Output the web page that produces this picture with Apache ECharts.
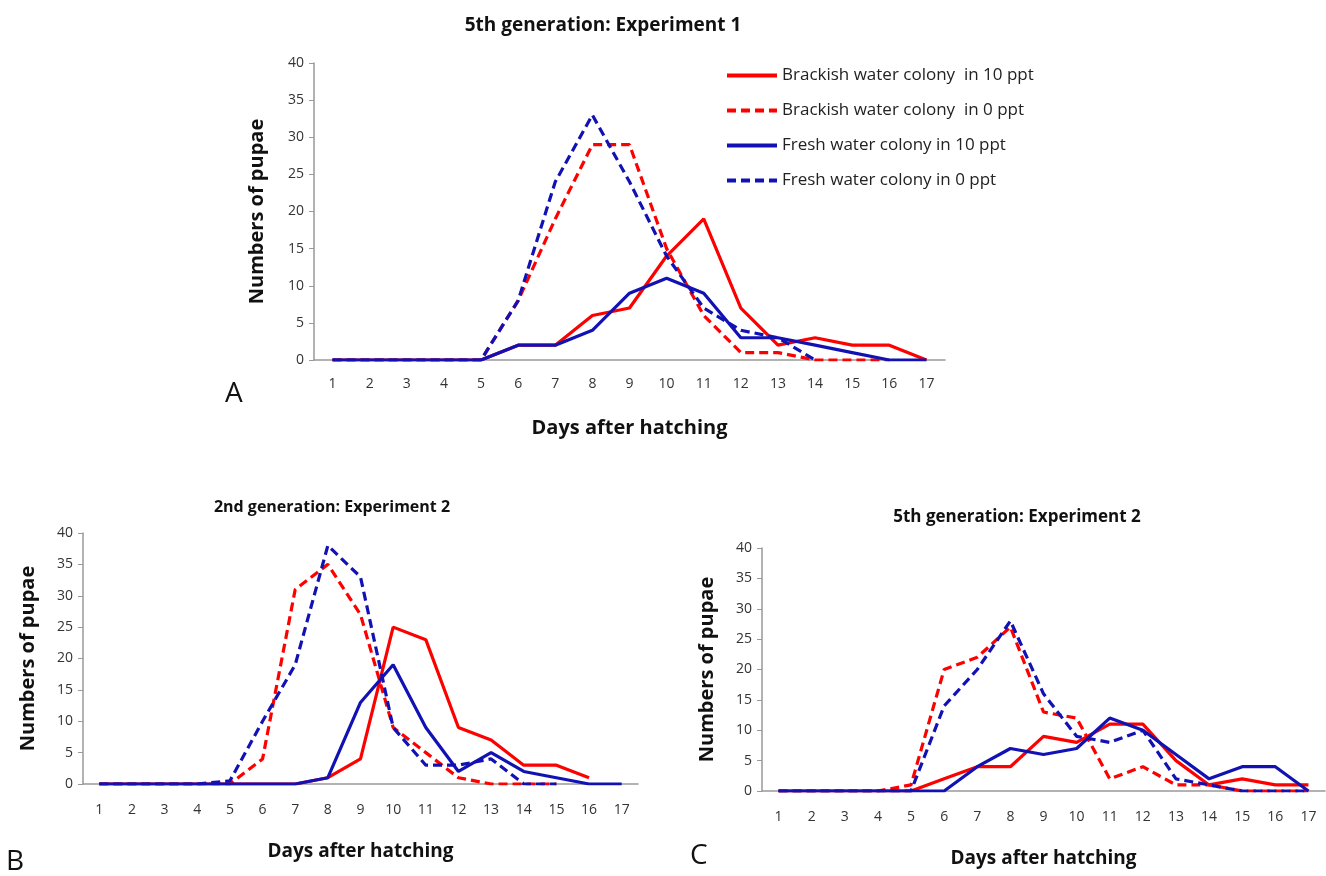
<!DOCTYPE html>
<html>
<head>
<meta charset="utf-8">
<script src="https://cdn.jsdelivr.net/npm/echarts@6/dist/echarts.min.js"></script>
<style>
  html, body { margin: 0; padding: 0; background: #fff; }
  #chart { width: 1326px; height: 876px; }
</style>
</head>
<body>
<div id="chart"></div>
<script>
// days after hatching
const days = ['1', '2', '3', '4', '5', '6', '7', '8', '9', '10', '11', '12', '13', '14', '15', '16', '17'];
const yTicks = [0, 5, 10, 15, 20, 25, 30, 35, 40];

const seriesNames = [
  'Brackish water colony  in 10 ppt',
  'Brackish water colony  in 0 ppt',
  'Fresh water colony in 10 ppt',
  'Fresh water colony in 0 ppt'
];

// A: 5th generation, experiment 1
const aBrackish10 = [0, 0, 0, 0, 0, 2, 2, 6, 7, 14, 19, 7, 2, 3, 2, 2, 0];
const aBrackish0 = [0, 0, 0, 0, 0, 8, 19, 29, 29, 15, 6, 1, 1, 0, 0, 0, '-'];
const aFresh10 = [0, 0, 0, 0, 0, 2, 2, 4, 9, 11, 9, 3, 3, 2, 1, 0, 0];
const aFresh0 = [0, 0, 0, 0, 0, 8, 24, 33, 24, 14, 7, 4, 3, 0, '-', '-', '-'];

// B: 2nd generation, experiment 2
const bBrackish10 = [0, 0, 0, 0, 0, 0, 0, 1, 4, 25, 23, 9, 7, 3, 3, 1, '-'];
const bBrackish0 = [0, 0, 0, 0, 0, 4, 31, 35, 27, 9, 5, 1, 0, 0, 0, '-', '-'];
const bFresh10 = [0, 0, 0, 0, 0, 0, 0, 1, 13, 19, 9, 2, 5, 2, 1, 0, 0];
const bFresh0 = [0, 0, 0, 0, 0.5, 10, 19, 38, 33, 9, 3, 3, 4, 0, 0, '-', '-'];

// C: 5th generation, experiment 2
const cBrackish10 = [0, 0, 0, 0, 0, 2, 4, 4, 9, 8, 11, 11, 5, 1, 2, 1, 1];
const cBrackish0 = [0, 0, 0, 0, 1, 20, 22, 27, 13, 12, 2, 4, 1, 1, 0, 0, 0];
const cFresh10 = [0, 0, 0, 0, 0, 0, 4, 7, 6, 7, 12, 10, 6, 2, 4, 4, 0];
const cFresh0 = [0, 0, 0, 0, 0, 14, 20, 28, 16, 9, 8, 10, 2, 1, 0, 0, 0];

const RED = '#ff0000';
const BLUE = '#1212b4';
const FONT = 'Open Sans';

const panels = [
  [aBrackish10, aBrackish0, aFresh10, aFresh0],
  [bBrackish10, bBrackish0, bFresh10, bFresh0],
  [cBrackish10, cBrackish0, cFresh10, cFresh0]
];

// grid positions (px)
const grids = [
  { left: 314, top: 63, width: 631, height: 297 },
  { left: 83, top: 533, width: 555, height: 251 },
  { left: 762, top: 548, width: 563, height: 243 }
];

const lineStyles = [
  { color: RED, type: 'solid' },
  { color: RED, type: [9, 5] },
  { color: BLUE, type: 'solid' },
  { color: BLUE, type: [9, 5] }
];

const xAxes = grids.map((g, i) => ({
  type: 'category',
  gridIndex: i,
  data: days,
  boundaryGap: true,
  axisTick: { show: false },
  axisLine: { lineStyle: { color: '#999', width: 1.5 } },
  axisLabel: { fontFamily: FONT, fontSize: 14, color: '#333', margin: i === 0 ? 17 : 19, interval: 0 },
  name: 'Days after hatching',
  nameLocation: 'middle',
  nameGap: 58,
  nameTextStyle: { fontFamily: FONT, fontSize: i === 0 ? 20 : 19, fontWeight: 'bold', color: '#111' }
}));

const yAxes = grids.map((g, i) => ({
  type: 'value',
  gridIndex: i,
  min: yTicks[0],
  max: yTicks[yTicks.length - 1],
  interval: 5,
  splitLine: { show: false },
  axisLine: { show: true, lineStyle: { color: '#999', width: 1.5 } },
  axisTick: { show: true, length: 5, lineStyle: { color: '#999' } },
  axisLabel: { fontFamily: FONT, fontSize: 14, color: '#333', margin: 10 },
  name: 'Numbers of pupae',
  nameLocation: 'middle',
  nameGap: i === 0 ? 47 : 45,
  nameTextStyle: { fontFamily: FONT, fontSize: 20, fontWeight: 'bold', color: '#111' }
}));

const series = [];
panels.forEach((vals4, pi) => {
  vals4.forEach((vals, si) => {
    series.push({
      name: seriesNames[si],
      type: 'line',
      xAxisIndex: pi,
      yAxisIndex: pi,
      data: vals,
      symbol: 'none',
      showSymbol: false,
      animation: false,
      itemStyle: { color: lineStyles[si].color },
      lineStyle: { color: lineStyles[si].color, width: 3.2, type: lineStyles[si].type }
    });
  });
});

const option = {
  backgroundColor: '#fff',
  title: [
    { text: '5th generation: Experiment 1', left: 598, top: 11, fs: 19 },
    { text: '2nd generation: Experiment 2', left: 327, top: 494, fs: 16 },
    { text: '5th generation: Experiment 2', left: 1012, top: 504, fs: 17 }
  ].map(t => ({
    text: t.text, left: t.left, top: t.top, textAlign: 'center',
    textStyle: { fontFamily: FONT, fontSize: t.fs, fontWeight: 'bold', color: '#111' }
  })),
  legend: {
    data: seriesNames,
    orient: 'vertical',
    left: 720,
    top: 62,
    itemWidth: 50,
    itemHeight: 14,
    itemGap: 18,
    itemStyle: { opacity: 0 },
    lineStyle: { width: 4 },
    textStyle: { fontFamily: FONT, fontSize: 17, color: '#222' }
  },
  grid: grids,
  xAxis: xAxes,
  yAxis: yAxes,
  series: series,
  graphic: [
    { type: 'text', left: 225, top: 380, style: { text: 'A', font: '28px "Open Sans"', fill: '#111' } },
    { type: 'text', left: 6, top: 848, style: { text: 'B', font: '28px "Open Sans"', fill: '#111' } },
    { type: 'text', left: 690, top: 842, style: { text: 'C', font: '28px "Open Sans"', fill: '#111' } }
  ]
};

const myChart = echarts.init(document.getElementById('chart'));
myChart.setOption(option);
</script>
</body>
</html>
